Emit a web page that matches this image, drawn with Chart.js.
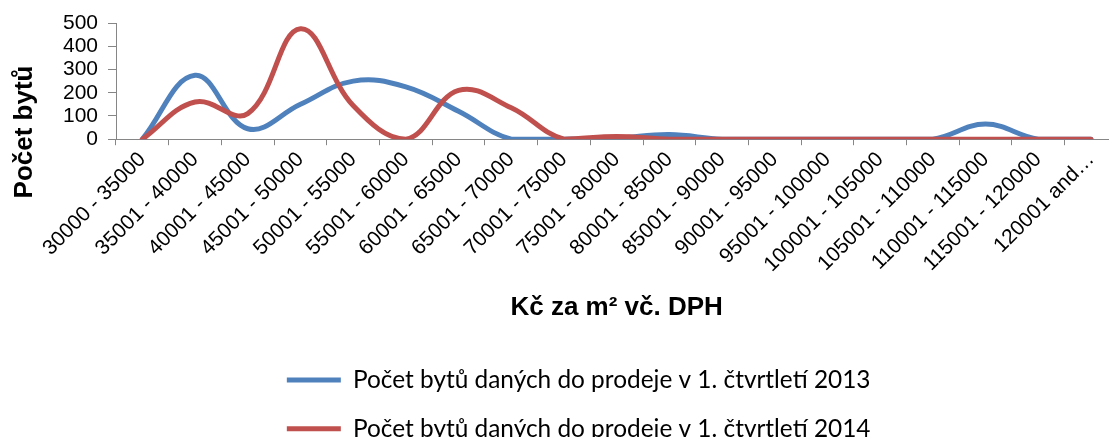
<!DOCTYPE html>
<html>
<head>
<meta charset="utf-8">
<script src="https://cdn.jsdelivr.net/npm/chart.js@4/dist/chart.umd.min.js"></script>
<style>
    html, body { margin: 0; padding: 0; overflow: hidden; background: #fff; }
    #wrap { width: 1130px; height: 451px; }
</style>
</head>
<body>
<div id="wrap"><canvas id="grafico" width="1130" height="451"></canvas></div>
<script>
const categorias = [
    "30000 - 35000", "35001 - 40000", "40001 - 45000", "45001 - 50000",
    "50001 - 55000", "55001 - 60000", "60001 - 65000", "65001 - 70000",
    "70001 - 75000", "75001 - 80000", "80001 - 85000", "85001 - 90000",
    "90001 - 95000", "95001 - 100000", "100001 - 105000", "105001 - 110000",
    "110001 - 115000", "115001 - 120000", "120001 and\u2026"
];
const byty2013 = [0, 275, 45, 150, 250, 225, 120, 0, 0, 5, 20, 0, 0, 0, 0, 0, 65, 0, 0];
const byty2014 = [0, 160, 110, 475, 145, 0, 210, 135, 0, 12, 0, 0, 0, 0, 0, 0, 0, 0, 0];
const ticksY = [0, 100, 200, 300, 400, 500];

const nomeSerie2013 = "Počet bytů daných do prodeje v 1. čtvrtletí 2013";
const nomeSerie2014 = "Počet bytů daných do prodeje v 1. čtvrtletí 2014";
const tituloX = "Kč za m\u00b2 vč. DPH";
const tituloY = "Počet bytů";

const AZUL = "#4F81BD";
const VERMELHO = "#C0504D";
const CINZA = "#868686";
const fonteArial = '"Liberation Sans", Arial, sans-serif';

// titulo do eixo Y fica mais baixo que o centro do eixo, como no original
const pluginTituloY = {
    id: "tituloY",
    afterDraw(chart) {
        const ctx = chart.ctx;
        ctx.save();
        ctx.translate(25, 132);
        ctx.rotate(-Math.PI / 2);
        ctx.font = "bold 26px " + fonteArial;
        ctx.fillStyle = "#000";
        ctx.textAlign = "center";
        ctx.textBaseline = "middle";
        ctx.fillText(tituloY, 0, 0);
        ctx.restore();
    }
};

function serie(label, dados, cor, ordem) {
    return {
        label: label,
        data: dados,
        borderColor: cor,
        backgroundColor: cor,
        borderWidth: 5,
        borderCapStyle: "round",
        borderJoinStyle: "round",
        pointRadius: 0,
        pointHoverRadius: 0,
        pointStyle: "line",
        tension: 0.4,
        fill: false,
        order: ordem
    };
}

new Chart(document.querySelector("#grafico"), {
    type: "line",
    data: {
        labels: categorias,
        datasets: [
            serie(nomeSerie2013, byty2013, AZUL, 1),
            serie(nomeSerie2014, byty2014, VERMELHO, 0)
        ]
    },
    options: {
        responsive: false,
        animation: false,
        layout: { padding: { top: 23, right: 12.7, bottom: 0, left: 40 } },
        plugins: {
            tooltip: { enabled: false },
            legend: {
                position: "bottom",
                labels: {
                    usePointStyle: true,
                    pointStyleWidth: 54,
                    boxHeight: 5,
                    padding: 24.5,
                    color: "#000",
                    font: { family: "Lato, 'Open Sans', sans-serif", size: 24.4 },
                    sort: (a, b) => a.datasetIndex - b.datasetIndex
                }
            }
        },
        scales: {
            x: {
                type: "category",
                offset: true,
                grid: {
                    offset: true,
                    drawOnChartArea: false,
                    tickLength: 6,
                    color: CINZA
                },
                border: { color: CINZA, width: 1 },
                ticks: {
                    autoSkip: false,
                    maxRotation: 45,
                    minRotation: 45,
                    padding: 2,
                    color: "#000",
                    font: { family: fonteArial, size: 21 }
                },
                title: {
                    display: true,
                    text: tituloX,
                    color: "#000",
                    font: { family: fonteArial, size: 26, weight: "bold" },
                    padding: { top: 0, bottom: 20 }
                },
                afterFit(scale) { scale.height = 204; }
            },
            y: {
                min: 0,
                max: 500,
                afterBuildTicks(scale) { scale.ticks = ticksY.map(v => ({ value: v })); },
                grid: {
                    drawOnChartArea: false,
                    tickLength: 8,
                    color: CINZA
                },
                border: { color: CINZA, width: 1 },
                ticks: {
                    autoSkip: false,
                    padding: 10,
                    color: "#000",
                    font: { family: fonteArial, size: 21 }
                },
                afterFit(scale) { scale.width = 76; }
            }
        }
    },
    plugins: [pluginTituloY]
});
</script>
</body>
</html>
